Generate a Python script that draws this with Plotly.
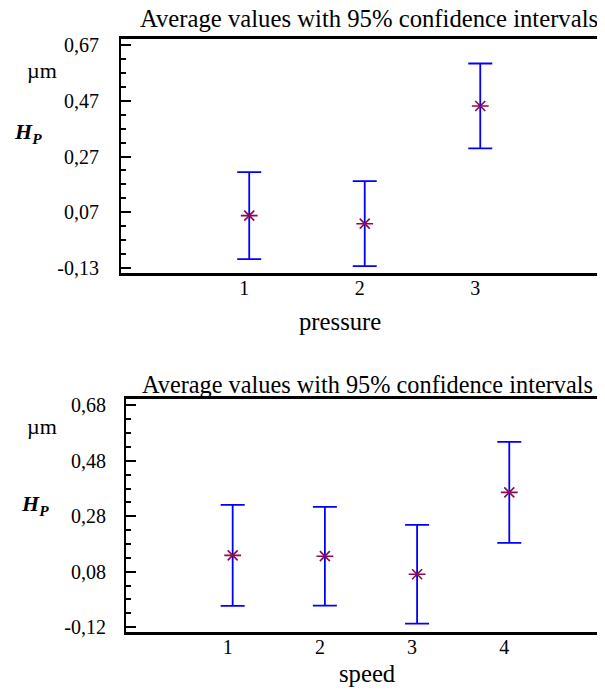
import plotly.graph_objects as go

# data (HP, um)
pressure_levels = [1, 2, 3]
pressure_mean = [0.057, 0.028, 0.452]
pressure_ci = [0.157, 0.153, 0.153]

speed_levels = [1, 2, 3, 4]
speed_mean = [0.139, 0.136, 0.071, 0.366]
speed_ci = [0.182, 0.178, 0.178, 0.182]

top_yticks = [-0.13, 0.07, 0.27, 0.47, 0.67]
top_yticktext = ["-0,13", "0,07", "0,27", "0,47", "0,67"]
bot_yticks = [-0.12, 0.08, 0.28, 0.48, 0.68]
bot_yticktext = ["-0,12", "0,08", "0,28", "0,48", "0,68"]

title_text = "Average values with 95% confidence intervals"
# the page body keeps its 8px margin, so the figure is 8px smaller than the window
W, H = 597, 683
FONT = "Liberation Serif, Times New Roman, Times, serif"
MARK = "#8b0a50"


def px(x):
  return x / W


def py(y):
  return 1 - y / H


def add_means(fig, levels, means, ci, xa, ya):
  fig.add_trace(go.Scatter(
    x=levels, y=means, mode="markers", xaxis=xa, yaxis=ya,
    marker=dict(symbol="x-thin-open", size=10, color=MARK, line=dict(color=MARK, width=1.6)),
    error_y=dict(type="data", array=ci, visible=True, color="#0000ff", thickness=1.8, width=12),
    showlegend=False, hoverinfo="skip"))
  fig.add_trace(go.Scatter(
    x=levels, y=means, mode="markers", xaxis=xa, yaxis=ya,
    marker=dict(symbol="line-ew-open", size=12, color=MARK, line=dict(color=MARK, width=1.6)),
    showlegend=False, hoverinfo="skip"))


fig = go.Figure()
add_means(fig, pressure_levels, pressure_mean, pressure_ci, "x", "y")
add_means(fig, speed_levels, speed_mean, speed_ci, "x2", "y2")

xcommon = dict(showline=True, linewidth=2.5, linecolor="black", mirror=True, ticks="",
               showgrid=False, zeroline=False, ticklabelshift=-5, ticklabelstandoff=-5,
               tickfont=dict(family=FONT, size=20, color="black"))
ycommon = dict(showline=True, linewidth=2, linecolor="black", ticks="inside", ticklen=10,
               tickwidth=2, tickcolor="black", showgrid=False, zeroline=False,
               tickfont=dict(family=FONT, size=20, color="black"))

fig.update_layout(
  width=W, height=H,
  margin=dict(l=0, r=0, t=0, b=0),
  paper_bgcolor="white", plot_bgcolor="white",
  font=dict(family=FONT, color="black"),
  xaxis=dict(domain=[px(113), 1], anchor="y", range=[-0.11, 4.08],
             tickvals=pressure_levels, ticktext=[str(v) for v in pressure_levels], **xcommon),
  yaxis=dict(domain=[py(264.5), py(26.5)], anchor="x", range=[-0.1505, 0.693],
             tickvals=top_yticks, ticktext=top_yticktext, ticklabelstandoff=16,
             minor=dict(tickmode="linear", tick0=-0.13, dtick=0.05, ticks="inside",
                        ticklen=5, tickwidth=1.5, tickcolor="black"),
             **ycommon),
  yaxis3=dict(overlaying="y", matches="y", side="right", anchor="x", showline=False,
              showticklabels=False, ticks="inside", ticklen=8, tickwidth=2, tickcolor="black",
              tickvals=top_yticks, showgrid=False, zeroline=False,
              minor=dict(tickmode="linear", tick0=-0.13, dtick=0.05, ticks="inside",
                         ticklen=4, tickwidth=1.5, tickcolor="black")),
  xaxis2=dict(domain=[px(118), 1], anchor="y2", range=[-0.157, 5.038],
              tickvals=speed_levels, ticktext=[str(v) for v in speed_levels], **xcommon),
  yaxis2=dict(domain=[py(629.3), py(392)], anchor="x2", range=[-0.138, 0.704],
              tickvals=bot_yticks, ticktext=bot_yticktext, ticklabelstandoff=14,
              minor=dict(tickmode="linear", tick0=-0.12, dtick=0.05, ticks="inside",
                         ticklen=5, tickwidth=1.5, tickcolor="black"),
              **ycommon),
)

tf = dict(family=FONT, size=24.7, color="black")
notes = [
  (title_text, 361, 6, tf),
  (title_text, 360, 378, dict(family=FONT, size=24.3, color="black")),
  ("pressure", 332, 314, tf),
  ("speed", 359, 671, tf),
  ("\u00b5m", 34, 58, dict(family=FONT, size=22, color="black")),
  ("\u00b5m", 34, 420, dict(family=FONT, size=22, color="black")),
  ("<b><i>H<sub>P</sub></i></b>", 20, 122, dict(family=FONT, size=22, color="black")),
  ("<b><i>H<sub>P</sub></i></b>", 27, 500, dict(family=FONT, size=22, color="black")),
]
for text, x, y, font in notes:
  fig.add_annotation(text=text, x=px(x), y=py(y), xref="paper", yref="paper",
                     showarrow=False, xanchor="center", yanchor="middle", font=font)

fig.write_html("out.html")
